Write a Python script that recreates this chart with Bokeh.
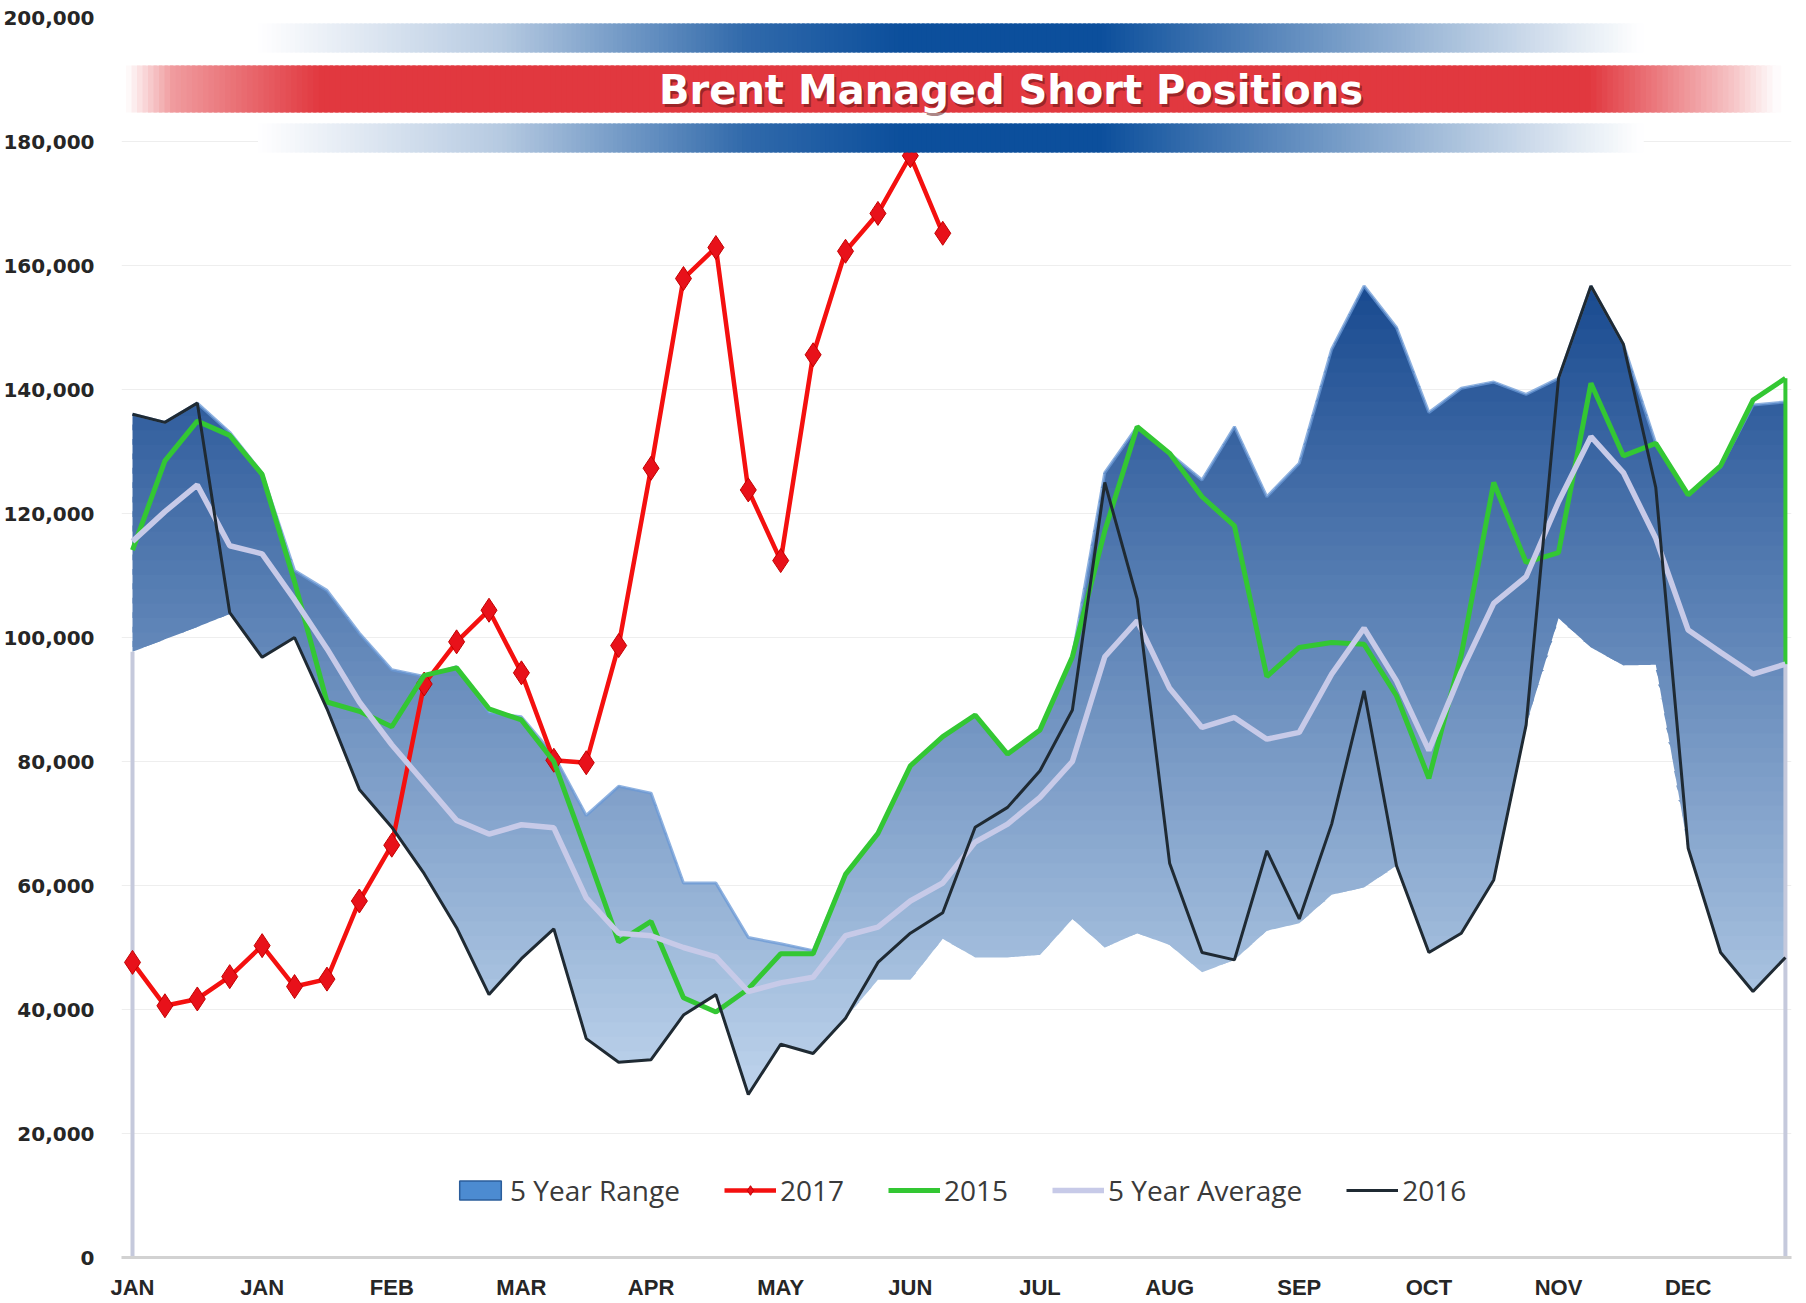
import numpy as np
from bokeh.plotting import figure
from bokeh.models import Range1d, FixedTicker, NumeralTickFormatter, Legend, LegendItem
from bokeh.core.properties import value
from bokeh.embed import file_html
from bokeh.resources import INLINE

# ---------------- data ----------------
title = "Brent Managed Short Positions"
month_labels = ["JAN", "JAN", "FEB", "MAR", "APR", "MAY", "JUN",
                "JUL", "AUG", "SEP", "OCT", "NOV", "DEC"]
weeks = list(range(52))

range_upper = [136000, 134700, 137800, 133100, 126500, 110800, 107600, 100700, 94800, 93700,
               95300, 87800, 87200, 81000, 71300, 76000, 74900, 60400, 60400, 51600,
               50600, 49500, 61800, 68400, 79300, 84000, 87500, 81200, 85100, 96900,
               126600, 134000, 129700, 125400, 134000, 122700, 128100, 146500, 156700, 150000,
               136300, 140200, 141200, 139200, 141800, 156700, 147300, 131300, 123000, 127500,
               137500, 138000]
range_lower = [97700, 99700, 101700, 103800, 96800, 100000, 88500, 75500, 69400, 61900,
               53200, 42400, 48200, 53000, 35300, 31500, 31900, 39100, 42400, 26300,
               34400, 32900, 38600, 44800, 44800, 51400, 48400, 48400, 48800, 54600,
               50000, 52300, 50400, 46000, 48000, 52700, 53900, 58500, 59700, 63200,
               49200, 52300, 60900, 85900, 103100, 98400, 95500, 95600, 66000, 49200,
               42900, 48400]
y2017 = [47600, 40600, 41700, 45300, 50300, 43700, 44900, 57500, 66500, 92500,
         99300, 104400, 94300, 80200, 79800, 98700, 127300, 157900, 162900, 123800,
         112400, 145600, 162300, 168400, 177700, 165200]
y2015 = [114100, 128500, 134900, 132600, 126300, 109000, 89600, 88100, 85600, 93900,
         95100, 88500, 86700, 80000, 65600, 50900, 54200, 41900, 39600, 43300,
         49000, 49000, 61800, 68400, 79300, 84000, 87500, 81200, 85100, 96900,
         117200, 134000, 129700, 122700, 118000, 93700, 98400, 99200, 98900, 90600,
         77300, 97200, 125000, 112100, 113700, 141000, 129300, 131300, 123000, 127700,
         138300, 141800]
avg5 = [115500, 120300, 124600, 114800, 113500, 106100, 98200, 89600, 82700, 76600,
        70500, 68300, 69800, 69300, 58000, 52300, 51900, 50000, 48500, 42900,
        44300, 45200, 51900, 53300, 57500, 60400, 67000, 69900, 74200, 80000,
        96900, 102700, 91800, 85500, 87100, 83600, 84700, 94100, 101500, 93000,
        81800, 94500, 105500, 109800, 121900, 132400, 126600, 116000, 101200, 97600,
        94100, 95700]
y2016 = [136000, 134700, 137800, 104000, 96800, 100000, 88500, 75500, 69400, 61900,
         53200, 42400, 48200, 53000, 35300, 31500, 31900, 39100, 42400, 26300,
         34400, 32900, 38600, 47600, 52300, 55600, 69400, 72600, 78500, 88300,
         125000, 106200, 63600, 49200, 48000, 65600, 54600, 69900, 91400, 63200,
         49200, 52300, 60900, 85900, 141800, 156700, 147300, 124200, 66000, 49200,
         42900, 48400]
weeks2017 = weeks[:len(y2017)]

# ---------------- figure ----------------
PX0, PXW = 132.5, 32.41          # screen position of week 0 and px per week (layout)
def sx(X):                        # reference screen x -> week coordinate
    return (np.asarray(X, dtype=float) - PX0) / PXW

Y_PER_PX = 200000 / 1240.0
def sy(Y):                        # reference screen y -> value coordinate
    return (1257 - np.asarray(Y, dtype=float)) * Y_PER_PX

p = figure(frame_width=1670, frame_height=1240,
           min_border_left=117, min_border_right=2, min_border_top=17, min_border_bottom=30,
           x_range=Range1d(float(sx(121.5)), float(sx(1791.5))), y_range=Range1d(0, 200000),
           output_backend="svg", toolbar_location=None)
p.outline_line_color = None
p.background_fill_color = "white"
p.border_fill_color = "white"

def blend(rgb, a):
    c = np.array(rgb, dtype=float)
    out = 255 - (255 - c) * a
    return "#%02x%02x%02x" % tuple(int(round(v)) for v in out)

# ---------------- 5 year range (vertical gradient fill) ----------------
xf = np.linspace(0, 51, 51 * 16 + 1)
upf = np.interp(xf, weeks, range_upper)
lof = np.interp(xf, weeks, range_lower)
nb = 56
lo_all, hi_all = min(range_lower), max(range_upper)
edges = np.linspace(lo_all, hi_all, nb + 1)
c_top = np.array([25, 74, 144])
c_bot = np.array([190, 212, 236])
step = edges[1] - edges[0]
for k in range(nb):
    y0, y1 = edges[k], edges[k + 1]
    t = ((y0 + y1) / 2 - lo_all) / (hi_all - lo_all)
    col = c_bot + (c_top - c_bot) * t
    hexcol = "#%02x%02x%02x" % tuple(int(round(c)) for c in col)
    hi = y1 + step * 0.4 if k < nb - 1 else y1
    yt = np.clip(upf, y0, hi)
    yb = np.clip(lof, y0, hi)
    p.varea(x=xf, y1=yb, y2=yt, fill_color=hexcol, fill_alpha=1.0)

# light bevel along top edge of range
p.line(weeks, range_upper, line_color="#6a98d6", line_width=3, line_alpha=0.75)

# end drop lines
p.segment(x0=[weeks[0]], y0=[0], x1=[weeks[0]], y1=[range_lower[0]],
          line_color="#c5c9dc", line_width=4)
p.segment(x0=[weeks[-1]], y0=[0], x1=[weeks[-1]], y1=[avg5[-1]],
          line_color="#c5c9dc", line_width=4)

# ---------------- series ----------------
r_2017_line = p.line(weeks2017, y2017, line_color="#f4100f", line_width=4.5)
r_2017_pts = p.scatter(weeks2017, y2017, marker="diamond", size=24,
                       fill_color="#e8111a", line_color="#c40000", line_width=1)
r_2015 = p.line(weeks, y2015, line_color="#33c733", line_width=5)
p.segment(x0=[weeks[-1]], y0=[y2015[-1]], x1=[weeks[-1]], y1=[avg5[-1]],
          line_color="#33c733", line_width=4)
r_avg = p.line(weeks, avg5, line_color="#c7cae8", line_width=5.5)
r_2016 = p.line(weeks, y2016, line_color="#1f2a33", line_width=3)

# renderer used only for the range legend icon (NaN data: draws nothing in the plot)
r_range = p.quad(left=[np.nan], right=[np.nan], top=[np.nan], bottom=[np.nan],
                 fill_color="#4c8bd1", line_color="#2b5d9b", line_width=1.5)

# ---------------- title banner (opaque colour ramps) ----------------
n = 300
bx = np.linspace(float(sx(126)), float(sx(1778)), n + 1)
bc = (bx[:-1] + bx[1:]) / 2
ov = (bx[1] - bx[0]) * 0.6
red_alpha = np.interp(bc, sx([126, 172, 321, 1589, 1732, 1778]), [0, 0.5, 1, 1, 0.3, 0])
p.quad(left=bx[:-1], right=bx[1:] + ov, bottom=float(sy(112)), top=float(sy(65)),
       fill_color=[blend((225, 56, 63), a) for a in red_alpha], line_color=None)
bx2 = np.linspace(float(sx(258)), float(sx(1641)), n + 1)
bc2 = (bx2[:-1] + bx2[1:]) / 2
ov2 = (bx2[1] - bx2[0]) * 0.6
blue_alpha = np.interp(bc2, sx([258, 500, 746, 900, 1100, 1400, 1641]),
                       [0, 0.3, 0.85, 1, 1, 0.45, 0])
for ytop, ybot in ((23, 52), (123, 152)):
    p.quad(left=bx2[:-1], right=bx2[1:] + ov2, bottom=float(sy(ybot)), top=float(sy(ytop)),
           fill_color=[blend((12, 79, 156), a) for a in blue_alpha], line_color=None)

tx, ty = float(sx(1011)), float(sy(89))
p.text(x=[tx], y=[ty], text=[title], text_font=value("DejaVu Sans"), text_font_style="bold",
       text_font_size="40px", text_color="#5a1010", text_alpha=0.5, text_align="center",
       text_baseline="middle", x_offset=2, y_offset=3)
p.text(x=[tx], y=[ty], text=[title], text_font=value("DejaVu Sans"), text_font_style="bold",
       text_font_size="40px", text_color="white", text_align="center", text_baseline="middle")

# ---------------- axes ----------------
p.xaxis.ticker = FixedTicker(ticks=weeks[::4])
p.xaxis.major_label_overrides = {w: m for w, m in zip(weeks[::4], month_labels)}
p.xaxis.axis_line_color = "#d2d2d2"
p.xaxis.axis_line_width = 3
p.xaxis.major_tick_line_color = None
p.xaxis.minor_tick_line_color = None
p.xaxis.major_label_standoff = 11
p.xaxis.major_label_text_font = "Liberation Sans"
p.xaxis.major_label_text_font_style = "bold"
p.xaxis.major_label_text_font_size = "22px"
p.xaxis.major_label_text_color = "#262626"

p.yaxis.ticker = FixedTicker(ticks=list(range(0, 200001, 20000)))
p.yaxis.formatter = NumeralTickFormatter(format="0,0")
p.yaxis.axis_line_color = None
p.yaxis.major_tick_line_color = None
p.yaxis.minor_tick_line_color = None
p.yaxis.major_label_standoff = 21
p.yaxis.major_label_text_font = "DejaVu Sans"
p.yaxis.major_label_text_font_style = "bold"
p.yaxis.major_label_text_font_size = "20px"
p.yaxis.major_label_text_color = "#262626"

p.xgrid.grid_line_color = None
p.ygrid.grid_line_color = "#eeeeee"
p.ygrid.grid_line_width = 1

# ---------------- legend ----------------
legend = Legend(items=[
    LegendItem(label="5 Year Range", renderers=[r_range]),
    LegendItem(label="2017", renderers=[r_2017_line, r_2017_pts]),
    LegendItem(label="2015", renderers=[r_2015]),
    LegendItem(label="5 Year Average", renderers=[r_avg]),
    LegendItem(label="2016", renderers=[r_2016]),
], location=(333, 48), orientation="horizontal",
    glyph_width=52, glyph_height=24, label_standoff=4, spacing=44,
    padding=0, margin=0, border_line_color=None, background_fill_alpha=0,
    label_text_font="Open Sans", label_text_font_size="28px", label_text_color="#3a3a3a")
p.add_layout(legend)

open("out.html", "w").write(file_html(p, INLINE))
